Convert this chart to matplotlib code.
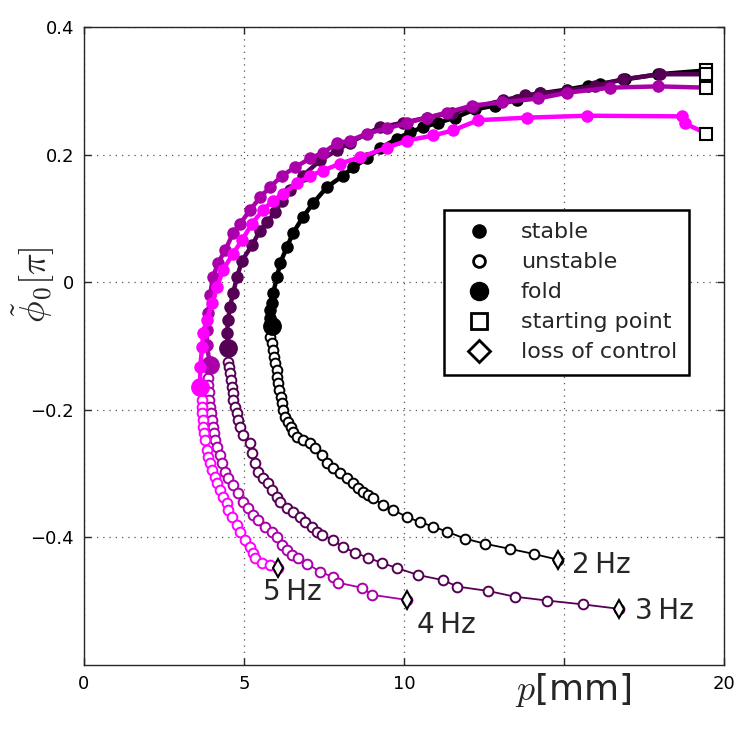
import matplotlib
matplotlib.use("Agg")
import matplotlib.pyplot as plt
from matplotlib.lines import Line2D

plt.rcParams["mathtext.fontset"] = "cm"
plt.rcParams["font.family"] = ["DejaVu Sans"]

freq_labels = ["2\u2009Hz", "3\u2009Hz", "4\u2009Hz", "5\u2009Hz"]
colors = ["#000000", "#550055", "#aa00aa", "#ff00ff"]

# stable branch, from starting point to fold (p in mm, phi in units of pi)
stable_p_2hz = [19.44, 17.94, 16.91, 16.13, 15.75, 15.09, 14.25, 13.53, 12.84, 12.22, 11.59,
                11.06, 10.59, 10.19, 9.78, 9.25, 8.84, 8.41, 8.09, 7.59, 7.16, 6.84, 6.53,
                6.34, 6.13, 6.03, 5.91, 5.88, 5.81, 5.81, 5.88]
stable_phi_2hz = [0.332, 0.326, 0.318, 0.311, 0.308, 0.302, 0.296, 0.286, 0.277, 0.271, 0.258,
                  0.250, 0.243, 0.235, 0.225, 0.210, 0.194, 0.180, 0.167, 0.149, 0.124, 0.102,
                  0.077, 0.055, 0.030, 0.008, -0.017, -0.033, -0.044, -0.056, -0.069]

stable_p_3hz = [19.44, 18.00, 16.84, 15.97, 15.09, 14.25, 13.78, 13.09, 12.16, 11.50, 10.72,
                9.97, 9.25, 8.31, 7.91, 7.38, 6.84, 6.44, 6.19, 5.97, 5.72, 5.50, 5.25, 4.94,
                4.78, 4.66, 4.56, 4.50, 4.47, 4.50]
stable_phi_3hz = [0.326, 0.326, 0.318, 0.308, 0.300, 0.296, 0.293, 0.285, 0.274, 0.266, 0.258,
                  0.250, 0.243, 0.219, 0.207, 0.191, 0.167, 0.144, 0.128, 0.110, 0.094, 0.081,
                  0.058, 0.034, 0.008, -0.017, -0.039, -0.059, -0.080, -0.103]

stable_p_4hz = [19.44, 17.94, 16.44, 15.09, 14.19, 13.06, 12.13, 11.34, 10.72, 10.09, 9.47,
                8.84, 8.31, 7.91, 7.47, 7.06, 6.59, 6.19, 5.81, 5.50, 5.19, 4.88, 4.66, 4.41,
                4.19, 4.03, 3.94, 3.88, 3.84, 3.84, 3.94]
stable_phi_4hz = [0.305, 0.307, 0.305, 0.297, 0.288, 0.282, 0.277, 0.266, 0.258, 0.250, 0.241,
                  0.233, 0.222, 0.218, 0.203, 0.194, 0.180, 0.167, 0.149, 0.133, 0.113, 0.092,
                  0.077, 0.050, 0.030, 0.008, -0.020, -0.049, -0.075, -0.099, -0.130]

stable_p_5hz = [19.44, 18.78, 18.69, 15.72, 13.84, 12.31, 11.53, 10.91, 10.09, 9.47, 8.63,
                8.00, 7.47, 7.06, 6.66, 6.22, 5.91, 5.59, 5.25, 4.94, 4.66, 4.34, 4.16, 4.00,
                3.84, 3.72, 3.69, 3.63, 3.63]
stable_phi_5hz = [0.233, 0.249, 0.260, 0.261, 0.258, 0.254, 0.238, 0.230, 0.222, 0.211, 0.196,
                  0.186, 0.175, 0.167, 0.155, 0.139, 0.128, 0.113, 0.092, 0.066, 0.045, 0.019,
                  -0.008, -0.033, -0.059, -0.080, -0.102, -0.133, -0.164]

# unstable branch, from fold to loss of control
unstable_p_2hz = [5.88, 5.81, 5.88, 5.91, 5.94, 5.97, 6.03, 6.03, 6.06, 6.09, 6.16, 6.19, 6.22,
                  6.28, 6.38, 6.47, 6.53, 6.66, 6.84, 7.06, 7.22, 7.44, 7.59, 7.78, 8.00, 8.22,
                  8.41, 8.56, 8.72, 8.88, 9.03, 9.34, 9.66, 10.09, 10.50, 10.91, 11.34, 11.91,
                  12.53, 13.31, 14.06, 14.81]
unstable_phi_2hz = [-0.069, -0.086, -0.095, -0.106, -0.117, -0.127, -0.138, -0.149, -0.158,
                    -0.169, -0.180, -0.189, -0.200, -0.211, -0.219, -0.227, -0.235, -0.243,
                    -0.247, -0.252, -0.260, -0.271, -0.283, -0.291, -0.299, -0.307, -0.315,
                    -0.322, -0.329, -0.333, -0.338, -0.349, -0.357, -0.368, -0.376, -0.383,
                    -0.391, -0.402, -0.410, -0.418, -0.426, -0.435]

unstable_p_3hz = [4.50, 4.50, 4.53, 4.56, 4.59, 4.63, 4.66, 4.66, 4.72, 4.78, 4.81, 4.88, 4.97,
                  5.19, 5.25, 5.34, 5.44, 5.59, 5.75, 5.88, 6.03, 6.13, 6.34, 6.53, 6.75, 6.91,
                  7.13, 7.28, 7.44, 7.78, 8.09, 8.47, 8.88, 9.31, 9.78, 10.44, 11.22, 11.66,
                  12.63, 13.47, 14.47, 15.59, 16.72]
unstable_phi_3hz = [-0.103, -0.125, -0.133, -0.142, -0.153, -0.164, -0.174, -0.185, -0.196,
                    -0.205, -0.216, -0.227, -0.239, -0.252, -0.268, -0.283, -0.297, -0.307,
                    -0.315, -0.326, -0.336, -0.344, -0.354, -0.360, -0.368, -0.376, -0.383,
                    -0.391, -0.396, -0.404, -0.415, -0.424, -0.432, -0.440, -0.448, -0.459,
                    -0.467, -0.477, -0.484, -0.493, -0.499, -0.505, -0.512]

unstable_p_4hz = [3.94, 3.88, 3.88, 3.91, 3.91, 3.94, 3.97, 4.00, 4.03, 4.06, 4.09, 4.16, 4.25,
                  4.31, 4.41, 4.50, 4.66, 4.81, 4.97, 5.13, 5.28, 5.44, 5.66, 5.88, 6.03, 6.19,
                  6.34, 6.50, 6.69, 6.97, 7.38, 7.78, 7.94, 8.69, 9.00, 10.09]
unstable_phi_4hz = [-0.130, -0.150, -0.161, -0.172, -0.185, -0.196, -0.205, -0.216, -0.227,
                    -0.236, -0.247, -0.258, -0.271, -0.283, -0.297, -0.307, -0.318, -0.330,
                    -0.344, -0.354, -0.365, -0.372, -0.383, -0.391, -0.399, -0.412, -0.419,
                    -0.427, -0.432, -0.441, -0.454, -0.462, -0.471, -0.479, -0.490, -0.498]

unstable_p_5hz = [3.63, 3.69, 3.69, 3.69, 3.72, 3.72, 3.75, 3.78, 3.84, 3.88, 3.94, 4.00, 4.09,
                  4.16, 4.25, 4.34, 4.47, 4.50, 4.63, 4.78, 4.88, 5.03, 5.19, 5.28, 5.34, 5.56,
                  5.81, 6.06]
unstable_phi_5hz = [-0.164, -0.185, -0.196, -0.205, -0.216, -0.227, -0.236, -0.247, -0.263,
                    -0.274, -0.283, -0.294, -0.305, -0.315, -0.326, -0.336, -0.346, -0.357,
                    -0.368, -0.380, -0.391, -0.404, -0.415, -0.424, -0.432, -0.440, -0.443,
                    -0.448]

stable = [(stable_p_2hz, stable_phi_2hz), (stable_p_3hz, stable_phi_3hz),
          (stable_p_4hz, stable_phi_4hz), (stable_p_5hz, stable_phi_5hz)]
unstable = [(unstable_p_2hz, unstable_phi_2hz), (unstable_p_3hz, unstable_phi_3hz),
            (unstable_p_4hz, unstable_phi_4hz), (unstable_p_5hz, unstable_phi_5hz)]

# where the frequency labels sit
label_pos = [(15.25, -0.443), (17.2, -0.516), (10.4, -0.538), (5.6, -0.485)]

legend_labels = ["stable", "unstable", "fold", "starting point", "loss of control"]

fig = plt.figure(figsize=(7.47, 7.31), dpi=100)
ax = fig.add_axes([0.1124, 0.0903, 0.857, 0.8727])

for i in range(4):
    sx, sy = stable[i]
    ux, uy = unstable[i]
    c = colors[i]
    ax.plot(ux, uy, "-o", color=c, lw=1.3, ms=7, mfc="white", mec=c, mew=1.4, zorder=2 + i)
    ax.plot(sx, sy, "-o", color=c, lw=3.2, ms=8, mfc=c, mec=c, zorder=2 + i)
    ax.plot(sx[-1], sy[-1], "o", color=c, ms=12.5, zorder=2 + i)
    ax.plot(sx[0], sy[0], "s", ms=8, mfc="white", mec="black", mew=1.5, zorder=10)
    ax.plot(ux[-1], uy[-1], "d", ms=9, mfc="white", mec="black", mew=1.5, zorder=10)
    ax.text(label_pos[i][0], label_pos[i][1], freq_labels[i], fontsize=20,
            color="#262626", ha="left", va="center")

ax.set_xlim(0, 20)
ax.set_ylim(-0.6, 0.4)
ax.set_xticks([0, 5, 10, 15, 20])
ax.set_xticklabels(["0", "5", "10", "", "20"])
ax.set_yticks([-0.4, -0.2, 0, 0.2, 0.4])
ax.set_yticklabels(["\u22120.4", "\u22120.2", "0", "0.2", "0.4"])
ax.tick_params(direction="in", length=5, width=1, top=True, right=True,
               labelsize=13, pad=7, color="#262626")
ax.grid(True, linestyle=(0, (1, 4)), color="#555555", lw=0.9)
for s in ax.spines.values():
    s.set_linewidth(1.0)
    s.set_color("#262626")

handles = [
    Line2D([], [], ls="none", marker="o", ms=9.5, mfc="black", mec="black"),
    Line2D([], [], ls="none", marker="o", ms=8.5, mfc="white", mec="black", mew=2),
    Line2D([], [], ls="none", marker="o", ms=13, mfc="black", mec="black"),
    Line2D([], [], ls="none", marker="s", ms=11, mfc="white", mec="black", mew=2),
    Line2D([], [], ls="none", marker="D", ms=11, mfc="white", mec="black", mew=2),
]
leg = ax.legend(handles, legend_labels, loc="upper left", bbox_to_anchor=(0.5625, 0.713),
                borderaxespad=0, fontsize=16, frameon=True, fancybox=False,
                framealpha=1, edgecolor="black", handletextpad=0.9, labelspacing=0.45,
                borderpad=0.55, handlelength=2.0)
leg.get_frame().set_linewidth(1.8)
leg.set_zorder(20)
for t in leg.get_texts():
    t.set_color("#262626")

fig.text(0.768, 0.056, "$p$[mm]", fontsize=26, ha="center", va="center", color="#262626")
fig.text(0.045, 0.61, r"$\tilde{\phi}_0[\pi]$", fontsize=26, rotation=90,
         ha="center", va="center", color="#262626")

fig.savefig("out.png", dpi=100)
